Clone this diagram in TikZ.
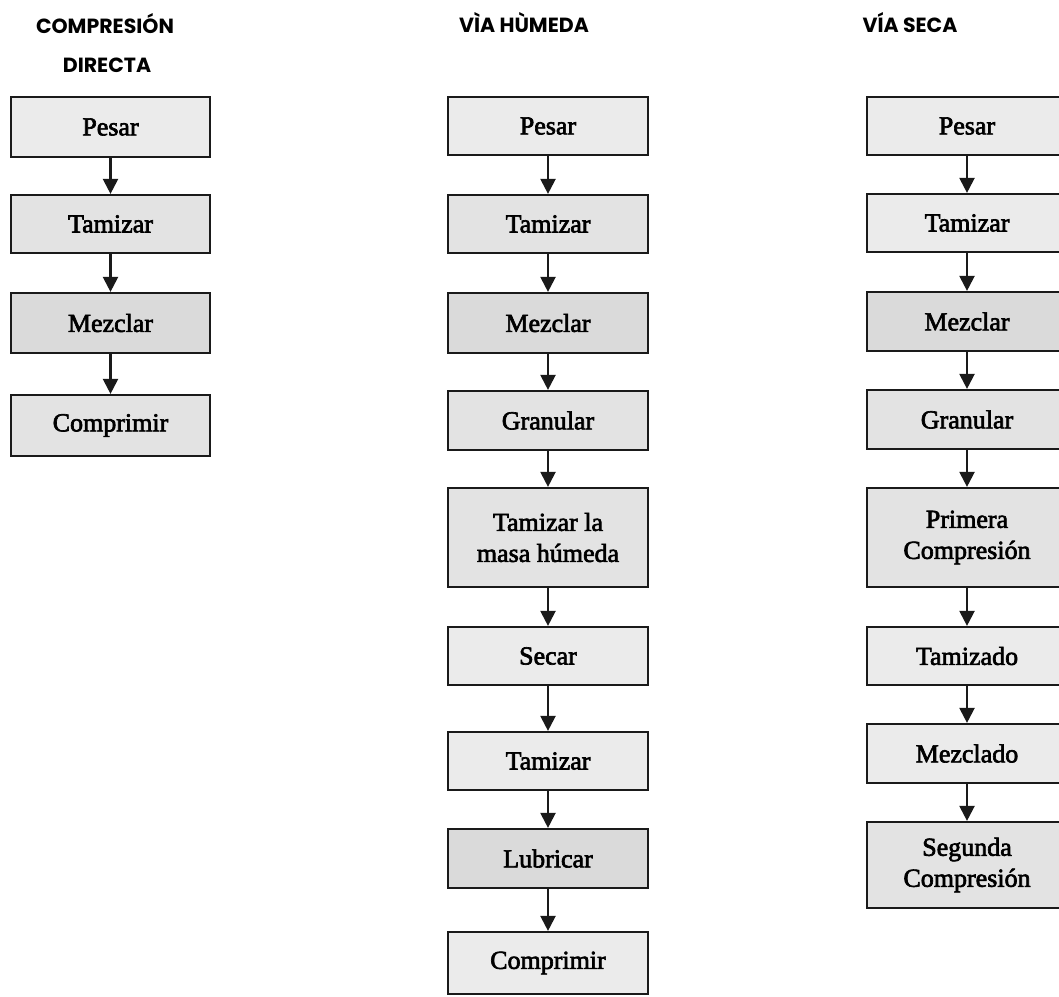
\documentclass[tikz,border=0pt]{standalone}
\usepackage{fontspec}
\setmainfont{Liberation Serif}
\newfontfamily\headfont{Poppins}[UprightFont=* Bold]
\newfontfamily\boxfont{Liberation Serif}[FakeBold=2.5]
\usetikzlibrary{arrows.meta}
\definecolor{boxlight}{HTML}{EBEBEB}
\definecolor{boxmid}{HTML}{E3E3E3}
\definecolor{boxdark}{HTML}{DADADA}
\definecolor{edge}{HTML}{1A1A1A}
\tikzset{
  stepbox/.style={draw=edge, line width=2.2pt, fill=boxlight, inner sep=0pt,
    align=center, font=\boxfont\fontsize{26}{31}\selectfont},
  light/.style={fill=boxlight},
  mid/.style={fill=boxmid},
  dark/.style={fill=boxdark},
  head/.style={anchor=base, inner sep=0pt, font=\headfont\fontsize{20.5}{24}\selectfont},
  flow/.style={draw=edge, line width=2.2pt, -{Triangle[width=15pt,length=15pt]}}
}
\begin{document}
\begin{tikzpicture}[x=1pt,y=-1pt]
\useasboundingbox (0,0) rectangle (1059,996);
% headers
\node[head] (h1a) at (105,33) {COMPRESIÓN};
\node[head] (h1b) at (107,72) {DIRECTA};
\node[head] (h2) at (524,32) {VÌA HÙMEDA};
\node[head] (h3) at (910,32) {VÍA SECA};
% column 1
\node[stepbox, light, minimum width=199pt, minimum height=60pt] (p1) at (110.5,127) {Pesar};
\node[stepbox, mid, minimum width=199pt, minimum height=58pt] (t1) at (110.5,224) {Tamizar};
\node[stepbox, dark, minimum width=199pt, minimum height=60pt] (m1) at (110.5,323) {Mezclar};
\node[stepbox, mid, minimum width=199pt, minimum height=61pt] (c1) at (110.5,425.5) {Comprimir};
\draw[flow] (p1) -- (t1);
\draw[flow] (t1) -- (m1);
\draw[flow] (m1) -- (c1);
% column 2
\node[stepbox, light, minimum width=200pt, minimum height=58pt] (p2) at (548,126) {Pesar};
\node[stepbox, mid, minimum width=200pt, minimum height=58pt] (t2) at (548,224) {Tamizar};
\node[stepbox, dark, minimum width=200pt, minimum height=60pt] (m2) at (548,323) {Mezclar};
\node[stepbox, mid, minimum width=200pt, minimum height=59pt] (g2) at (548,420.5) {Granular};
\node[stepbox, mid, minimum width=200pt, minimum height=99pt] (tm2) at (548,537.5) {Tamizar la\\masa húmeda};
\node[stepbox, light, minimum width=200pt, minimum height=58pt] (s2) at (548,656) {Secar};
\node[stepbox, light, minimum width=200pt, minimum height=58pt] (tb2) at (548,761) {Tamizar};
\node[stepbox, dark, minimum width=200pt, minimum height=59pt] (l2) at (548,858.5) {Lubricar};
\node[stepbox, light, minimum width=200pt, minimum height=62pt] (c2) at (548,963) {Comprimir};
\draw[flow] (p2) -- (t2);
\draw[flow] (t2) -- (m2);
\draw[flow] (m2) -- (g2);
\draw[flow] (g2) -- (tm2);
\draw[flow] (tm2) -- (s2);
\draw[flow] (s2) -- (tb2);
\draw[flow] (tb2) -- (l2);
\draw[flow] (l2) -- (c2);
% column 3
\node[stepbox, light, minimum width=200pt, minimum height=58pt] (p3) at (967,126) {Pesar};
\node[stepbox, light, minimum width=200pt, minimum height=58pt] (t3) at (967,223) {Tamizar};
\node[stepbox, dark, minimum width=200pt, minimum height=59pt] (m3) at (967,321.5) {Mezclar};
\node[stepbox, mid, minimum width=200pt, minimum height=59pt] (g3) at (967,419.5) {Granular};
\node[stepbox, mid, minimum width=200pt, minimum height=99pt] (pc3) at (967,537.5) {Primera\\Compresión};
\node[stepbox, light, minimum width=200pt, minimum height=58pt] (ta3) at (967,656) {Tamizado};
\node[stepbox, light, minimum width=200pt, minimum height=59pt] (me3) at (967,753.5) {Mezclado};
\node[stepbox, mid, minimum width=200pt, minimum height=86pt] (sc3) at (967,865) {Segunda\\Compresión};
\draw[flow] (p3) -- (t3);
\draw[flow] (t3) -- (m3);
\draw[flow] (m3) -- (g3);
\draw[flow] (g3) -- (pc3);
\draw[flow] (pc3) -- (ta3);
\draw[flow] (ta3) -- (me3);
\draw[flow] (me3) -- (sc3);
\end{tikzpicture}
\end{document}
